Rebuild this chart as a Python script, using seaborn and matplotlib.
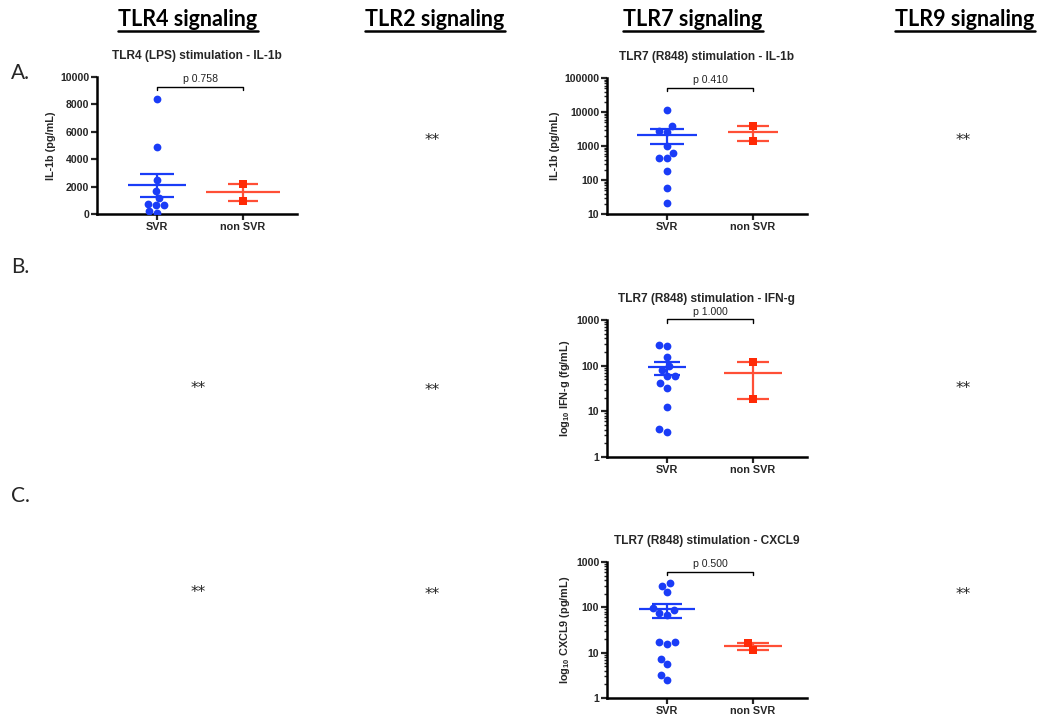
import numpy as np
import pandas as pd
import matplotlib
matplotlib.use("Agg")
import matplotlib.pyplot as plt
import seaborn as sns
from matplotlib.ticker import LogLocator, NullFormatter, FixedLocator
import matplotlib.transforms as mtransforms

# ---------------- data ----------------
groups = ["SVR", "non SVR"]

lps_il1b_svr = [8390, 4900, 2490, 1680, 1150, 760, 630, 630, 200, 70]
lps_il1b_non = [2200, 950]

r848_il1b_svr = [11140, 3850, 2800, 2500, 970, 640, 440, 440, 190, 60, 21]
r848_il1b_non = [3760, 1450]

r848_ifng_svr = [282, 268, 157, 98, 78.5, 59, 58, 41.4, 33.2, 12.3, 4.05, 3.48]
r848_ifng_non = [120, 18.4]

r848_cxcl9_svr = [344, 301, 218, 96.7, 85.9, 73.7, 67.8, 17.5, 17.2, 15.3, 7.25, 5.63, 3.16, 2.45]
r848_cxcl9_non = [16.1, 11.6]

p_labels = ["p 0.758", "p 0.410", "p 1.000", "p 0.500"]
panel_titles = ["TLR4 (LPS) stimulation - IL-1b",
                "TLR7 (R848) stimulation - IL-1b",
                "TLR7 (R848) stimulation - IFN-g",
                "TLR7 (R848) stimulation - CXCL9"]
y_labels = ["IL-1b (pg/mL)", "IL-1b (pg/mL)",
            r"log$_{\mathbf{10}}$ IFN-g (fg/mL)",
            r"log$_{\mathbf{10}}$ CXCL9 (pg/mL)"]
col_headers = ["TLR4 signaling", "TLR2 signaling", "TLR7 signaling", "TLR9 signaling"]
row_labels = ["A.", "B.", "C."]
empty_marker = "**"

BLUE = "#1a3cf7"
RED = "#ff2a06"
RED_LINE = "#ff4f36"

W, H = 1045, 717
sns.set_style("white")
plt.rcParams["font.family"] = ["Liberation Sans", "DejaVu Sans"]
plt.rcParams["mathtext.fontset"] = "custom"
plt.rcParams["mathtext.rm"] = "Liberation Sans"
plt.rcParams["mathtext.bf"] = "Liberation Sans:bold"

fig = plt.figure(figsize=(W / 100, H / 100), dpi=100)
fig.patch.set_facecolor("white")


def px_axes(left, top, right, bottom):
    return fig.add_axes([left / W, 1 - bottom / H, (right - left) / W, (bottom - top) / H])


def panel(ax, svr, non, log, ylim, title, ylabel, ptxt, mean_hw, cap_hw, bracket_y, text_y, yticks=None):
    df = pd.DataFrame({"group": ["SVR"] * len(svr) + ["non SVR"] * len(non),
                       "value": list(svr) + list(non)})
    kw = dict(x="group", y="value", order=groups, ax=ax, size=5.6, zorder=4, linewidth=0)
    if log:
        kw["log_scale"] = True
    ax.set_ylim(ylim)
    sns.swarmplot(data=df[df.group == "SVR"], color=BLUE, marker="o", **kw)
    sns.swarmplot(data=df[df.group == "non SVR"], color=RED, marker="s", **kw)
    ax.set_ylim(ylim)
    ax.set_xlim(-0.698, 1.628)

    for i, (vals, col) in enumerate([(svr, BLUE), (non, RED_LINE)]):
        v = np.asarray(vals, float)
        m = v.mean()
        se = v.std(ddof=1) / np.sqrt(len(v))
        ax.hlines(m, i - mean_hw[i], i + mean_hw[i], color=col, lw=1.6, zorder=3)
        ax.hlines([m - se, m + se], i - cap_hw[i], i + cap_hw[i], color=col, lw=1.6, zorder=3)
        ax.vlines(i, m - se, m + se, color=col, lw=1.6, zorder=3)

    for s in ["top", "right"]:
        ax.spines[s].set_visible(False)
    for s in ["left", "bottom"]:
        ax.spines[s].set_linewidth(1.8)
        ax.spines[s].set_color("black")

    if log:
        ax.yaxis.set_major_locator(LogLocator(base=10, numticks=10))
        ax.yaxis.set_minor_locator(LogLocator(base=10, subs=np.arange(2, 10), numticks=10))
        ax.yaxis.set_minor_formatter(NullFormatter())
        ax.yaxis.set_major_formatter(matplotlib.ticker.FuncFormatter(lambda v, p: f"{int(round(v))}"))
    else:
        ax.yaxis.set_major_locator(FixedLocator(yticks))
    ax.tick_params(axis="y", which="major", direction="out", length=4, width=1.6, left=True,
                   labelsize=7.6, pad=1.5)
    ax.tick_params(axis="y", which="minor", direction="out", length=2.5, width=1.0, left=True)
    ax.tick_params(axis="x", which="major", direction="out", length=4, width=1.6, bottom=True,
                   labelsize=7.8, pad=2)
    for lab in ax.get_yticklabels() + ax.get_xticklabels():
        lab.set_fontweight("bold")
    ax.set_xlabel("")
    ax.set_ylabel(ylabel, fontsize=7.8, fontweight="bold", labelpad=3)
    ax.set_title(title, fontsize=8.6, fontweight="bold", pad=13)
    ax.set_facecolor("white")
    ax.grid(False)

    tr = mtransforms.blended_transform_factory(ax.transData, ax.transAxes)
    ax.plot([0, 0, 1, 1], [bracket_y - 0.025, bracket_y, bracket_y, bracket_y - 0.025],
            color="black", lw=1.0, transform=tr, clip_on=False)
    ax.text(0.5, text_y, ptxt, transform=tr, ha="center", va="bottom", fontsize=7.6, color="#222222")


# Panel A1: TLR4 LPS IL-1b
ax1 = px_axes(97, 77, 297, 214)
panel(ax1, lps_il1b_svr, lps_il1b_non, False, (0, 10000), panel_titles[0], y_labels[0], p_labels[0],
      (0.34, 0.43), (0.2, 0.18), 0.927, 0.95, yticks=[0, 2000, 4000, 6000, 8000, 10000])

# Panel A3: TLR7 R848 IL-1b
ax2 = px_axes(607, 78, 807, 214)
panel(ax2, r848_il1b_svr, r848_il1b_non, True, (10, 100000), panel_titles[1], y_labels[1], p_labels[1],
      (0.35, 0.29), (0.2, 0.19), 0.927, 0.945)

# Panel B3: IFN-g
ax3 = px_axes(607, 320, 807, 457)
panel(ax3, r848_ifng_svr, r848_ifng_non, True, (1, 1000), panel_titles[2], y_labels[2], p_labels[2],
      (0.22, 0.34), (0.15, 0.19), 1.005, 1.025)

# Panel C3: CXCL9
ax4 = px_axes(607, 562, 807, 698)
panel(ax4, r848_cxcl9_svr, r848_cxcl9_non, True, (1, 1000), panel_titles[3], y_labels[3], p_labels[3],
      (0.33, 0.34), (0.17, 0.19), 0.927, 0.945)

# ---------------- column headers ----------------
header_x = [188, 435, 693, 965]
hdr_texts = []
for x, t in zip(header_x, col_headers):
    hdr_texts.append(fig.text(x / W, 1 - 26 / H, t, ha="center", va="baseline", fontsize=15.5,
                              fontweight="bold", family=["Lato", "DejaVu Sans"], color="black"))
fig.canvas.draw()
r = fig.canvas.get_renderer()
for t in hdr_texts:
    bb = t.get_window_extent(renderer=r)
    fig.add_artist(plt.Line2D([bb.x0 / W, bb.x1 / W], [1 - 31 / H, 1 - 31 / H],
                              color="black", lw=1.8, transform=fig.transFigure))

# row labels
for y, t in zip([73, 267, 496], row_labels):
    fig.text(11 / W, 1 - y / H, t, ha="left", va="center", fontsize=15, family=["Lato", "DejaVu Sans"])

# empty-slot markers
empty_pos = [(432, 140), (963, 141), (198, 389), (432, 390), (963, 389),
             (198, 592), (432, 595), (963, 594)]
for x, y in empty_pos:
    fig.text(x / W, 1 - y / H, empty_marker, ha="center", va="center", fontsize=11,
             family=["DejaVu Sans"], color="#222222")

fig.savefig("out.png", dpi=100, facecolor="white")
